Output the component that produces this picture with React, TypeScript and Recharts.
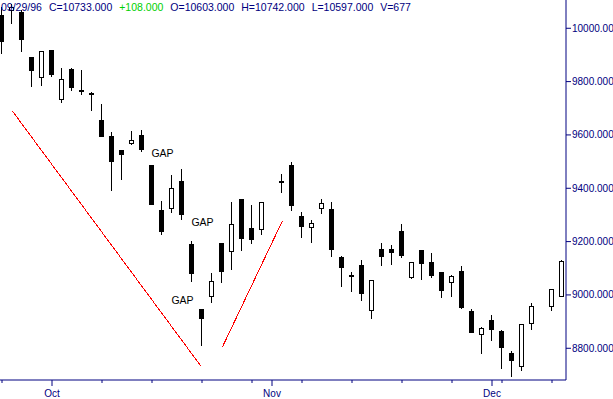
import React from "react";
import { ComposedChart, Bar, XAxis, YAxis, ReferenceLine, ReferenceDot } from "recharts";

// trading day slot (gaps at 27 and 54)
const days = [
  0, 1, 2, 3, 4, 5, 6, 7, 8, 9, 10, 11, 12, 13, 14, 15, 16, 17, 18, 19, 20, 21, 22, 23, 24, 25, 26,
  28, 29, 30, 31, 32, 33, 34, 35, 36, 37, 38, 39, 40, 41, 42, 43, 44, 45, 46, 47, 48, 49, 50, 51, 52, 53,
  55, 56,
];
const opens = [
  10050, 10065, 10061, 9892, 9814, 9919, 9731, 9847, 9768, 9757, 9656, 9596, 9544, 9566, 9600, 9487, 9318, 9322,
  9427, 9191, 8947, 8992, 9195, 9161, 9360, 9251, 9243,
  9420, 9487, 9296, 9251, 9322, 9322, 9142, 9075, 9112, 8940, 9172, 9172, 9240, 9064, 9169, 9124, 9086, 9045,
  9090, 8940, 8850, 8906, 8865, 8782, 8730, 8891,
  8955, 8992,
];
const highs = [
  10078, 10090, 10068, 9892, 9915, 9919, 9851, 9851, 9843, 9761, 9716, 9611, 9544, 9615, 9619, 9487, 9352, 9450,
  9472, 9202, 8947, 9082, 9195, 9349, 9360, 9337, 9349,
  9453, 9498, 9311, 9281, 9360, 9349, 9146, 9086, 9131, 9056, 9195, 9187, 9266, 9124, 9169, 9157, 9086, 9075,
  9108, 8947, 8880, 8925, 8869, 8790, 8891, 8970,
  9022, 9131,
];
const lows = [
  9904, 10016, 9911, 9780, 9784, 9817, 9720, 9765, 9750, 9690, 9592, 9390, 9431, 9562, 9536, 9337, 9225, 9307,
  9281, 9049, 8808, 8970, 9045, 9094, 9165, 9191, 9225,
  9382, 9315, 9213, 9195, 9303, 9142, 9030, 9011, 8977, 8910, 9109, 9112, 9139, 9060, 9056, 9064, 8988, 8992,
  8947, 8857, 8778, 8827, 8722, 8692, 8715, 8868,
  8940, 8992,
];
const closes = [
  9949, 10078, 9956, 9840, 9915, 9825, 9810, 9776, 9761, 9750, 9592, 9498, 9525, 9581, 9544, 9337, 9236, 9401,
  9300, 9079, 8910, 9052, 9086, 9266, 9210, 9206, 9349,
  9427, 9333, 9255, 9270, 9345, 9168, 9101, 9067, 9004, 9056, 9142, 9157, 9146, 9124, 9116, 9071, 9015, 9071,
  8951, 8857, 8876, 8869, 8801, 8752, 8891, 8958,
  9022, 9127,
];

const priceTicks = [8800, 9000, 9200, 9400, 9600, 9800, 10000];
const weekTicks = [0, 5, 10, 15, 20, 25, 27, 30, 35, 40, 45, 49, 50, 55];
const monthLabels: Record<number, string> = { 5: "Oct", 27: "Nov", 49: "Dec" };

const trendLines = [
  [{ x: 1.03, y: 9690 }, { x: 19.93, y: 8731 }],
  [{ x: 22.03, y: 8804 }, { x: 28.03, y: 9277 }],
];
const gapNotes = [
  { x: 16.05, y: 9532 },
  { x: 20.05, y: 9274 },
  { x: 18.05, y: 8981 },
];

const header = [
  { text: "09/29/96", color: "#000080" },
  { text: "C=10733.000", color: "#000080" },
  { text: "+108.000", color: "#00d000" },
  { text: "O=10603.000", color: "#000080" },
  { text: "H=10742.000", color: "#000080" },
  { text: "L=10597.000", color: "#000080" },
  { text: "V=677", color: "#000080" },
];

const data = days.map((d, k) => ({
  day: d,
  open: opens[k],
  high: highs[k],
  low: lows[k],
  close: closes[k],
  range: [lows[k], highs[k]],
}));

const NAVY = "#000080";
const FONT = "'Liberation Sans', Arial, sans-serif";

const Candle = (props: any) => {
  const { x, y, width, height, payload } = props;
  if (!payload) return null;
  const top = Math.min(y, y + height);
  const h = Math.abs(height);
  const { open, close, high, low } = payload;
  const px = (v: number) => (high === low ? top : top + ((high - v) / (high - low)) * h);
  const cx = Math.round(x + width / 2) - 1;
  const up = close >= open;
  const yHi = Math.round(top);
  const yLo = Math.round(top + h);
  let bTop = Math.round(px(Math.max(open, close)));
  let bBot = Math.round(px(Math.min(open, close)));
  if (bBot - bTop < 2) bBot = bTop + 2;
  return (
    <g shapeRendering="crispEdges">
      <rect x={cx} y={yHi} width={1} height={Math.max(1, yLo - yHi)} fill="#000" />
      {up ? (
        <rect x={cx - 1.5} y={bTop + 0.5} width={4} height={bBot - bTop - 1} fill="#fff" stroke="#000" strokeWidth={1} />
      ) : (
        <rect x={cx - 2} y={bTop} width={5} height={bBot - bTop} fill="#000" />
      )}
    </g>
  );
};

const DayTick = (props: any) => {
  const { x, y, payload } = props;
  const label = monthLabels[payload.value];
  const len = label ? 6 : 3;
  return (
    <g>
      <line x1={x} x2={x} y1={y} y2={y + len} stroke={NAVY} strokeWidth={1} />
      {label && (
        <text x={x} y={y + 17} textAnchor="middle" fill={NAVY} fontSize={10} fontFamily={FONT}>
          {label}
        </text>
      )}
    </g>
  );
};

export default function App() {
  return (
    <div style={{ position: "absolute", left: 0, top: 0, width: 613, height: 399, background: "#fff" }}>
      <ComposedChart width={613} height={399} data={data} margin={{ top: 0, right: 0, bottom: 0, left: 0 }}>
        <XAxis
          dataKey="day"
          type="number"
          domain={[-0.2, 56.4]}
          ticks={weekTicks}
          interval={0}
          tick={<DayTick />}
          tickLine={false}
          tickSize={0}
          tickMargin={0}
          height={19}
          axisLine={{ stroke: NAVY }}
          allowDataOverflow
        />
        <YAxis
          orientation="right"
          type="number"
          domain={[8681, 10106]}
          ticks={priceTicks}
          interval={0}
          width={47}
          tickSize={5}
          tickMargin={1}
          tickFormatter={(v: number) => v.toFixed(3)}
          tick={{ fill: NAVY, fontSize: 10, fontFamily: FONT }}
          tickLine={{ stroke: NAVY }}
          axisLine={{ stroke: NAVY }}
          allowDataOverflow
        />
        {trendLines.map((seg, k) => (
          <ReferenceLine key={k} segment={seg} stroke="#ff0000" strokeWidth={1} shapeRendering="crispEdges" />
        ))}
        <Bar dataKey="range" barSize={5} shape={<Candle />} isAnimationActive={false} />
        {gapNotes.map((g, k) => (
          <ReferenceDot
            key={k}
            x={g.x}
            y={g.y}
            r={1}
            fill="none"
            stroke="none"
            label={{ value: "GAP", position: "center", fill: "#000", fontSize: 10.5, fontFamily: FONT }}
          />
        ))}
      </ComposedChart>
      <svg width={613} height={16} style={{ position: "absolute", left: 0, top: 0 }}>
        <text x={1} y={11} fontSize={10.5} fontFamily={FONT}>
          {header.map((h, k) => (
            <tspan key={k} fill={h.color} dx={k === 0 ? 0 : 7}>
              {h.text}
            </tspan>
          ))}
        </text>
      </svg>
    </div>
  );
}
